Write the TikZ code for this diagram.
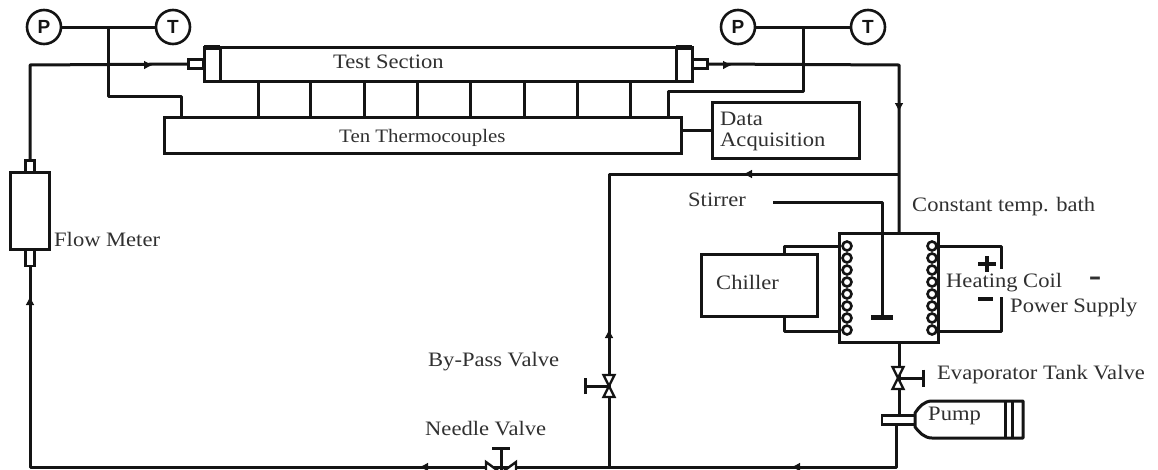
\documentclass[tikz,border=0pt]{standalone}
\usepackage{fontspec}
\setmainfont[FakeStretch=1.1]{Liberation Serif}
\setsansfont{Liberation Sans}
\usetikzlibrary{positioning,arrows.meta,calc}
\definecolor{pipeink}{HTML}{141414}
\definecolor{labelink}{HTML}{303030}
\tikzset{
  every node/.style={font=\fontsize{20.5}{22}\selectfont, text=labelink},
  pipe/.style={line width=3pt, draw=pipeink, line join=round},
  flow/.style={-{Latex[length=9pt,width=9pt]}},
  vessel/.style={
    rectangle, draw=pipeink, line width=3pt, fill=white,
    inner sep=0pt, outer sep=0pt
  },
  stub/.style={
    rectangle, draw=pipeink, line width=2.6pt, fill=white,
    inner sep=0pt, outer sep=0pt
  },
  gauge/.style={
    circle, draw=pipeink, line width=2.6pt, fill=white,
    inner sep=0pt, outer sep=0pt, minimum size=34pt,
    font=\fontsize{19}{20}\sffamily\bfseries, text=pipeink
  },
  caption/.style={anchor=west, inner sep=0pt},
  bowtie/.pic={
    \draw[line width=2.4pt, draw=pipeink, fill=white] (-5.5,-11) -- (5.5,-11) -- (-5.5,11) -- (5.5,11) -- cycle;
  },
  widetie/.pic={
    \draw[line width=2.4pt, draw=pipeink, fill=white] (-15,-11) -- (-15,11) -- (15,-11) -- (15,11) -- cycle;
  },
  turn/.style={line width=2.6pt, draw=pipeink, fill=white},
  heavy/.style={pipe, line width=5pt},
}
\begin{document}
\begin{tikzpicture}[x=1pt,y=-1pt]
  \path[use as bounding box, clip] (0,0) rectangle (1158,469);

  \coordinate (loopSE) at (896,467);
  \coordinate (loopSW) at (30,467);
  \coordinate (loopNW) at (30,65);
  \coordinate (loopNE) at (899,65);
  \coordinate (teeBath) at (899,174);
  \coordinate (teeBypass) at (609,174);
  \coordinate (teeBottom) at (609,467);
  \coordinate (tipA) at (791,467);
  \coordinate (tipB) at (419,467);
  \coordinate (tipC) at (30,296);
  \coordinate (tipD) at (153,65);
  \coordinate (tipE) at (732,65);
  \coordinate (tipF) at (899,112);
  \coordinate (tipG) at (743,174);
  \coordinate (tipH) at (609,329);
  \coordinate (bypassvalve) at (609,386);
  \coordinate (bypasshandle) at (584,386);
  \coordinate (needlevalve) at (501,473);
  \coordinate (needlehandle) at (501,447);
  \coordinate (tankvalve) at (898,378);
  \coordinate (tankhandle) at (925,378);
  \coordinate (stirrerend) at (773,202);
  \coordinate (stirrerknee) at (882,202);
  \coordinate (stirrerfoot) at (882,317);

  \node[vessel, minimum width=488pt, minimum height=34pt] (test) at (448,64) {};
  \node[vessel, minimum width=16pt, minimum height=34pt] (capL) at (212,64) {};
  \node[vessel, minimum width=16pt, minimum height=34pt] (capR) at (684,64) {};
  \node[stub, minimum width=15pt, minimum height=9pt] (inlet) at (196,64) {};
  \node[stub, minimum width=15pt, minimum height=9pt] (outlet) at (700,64) {};
  \draw[heavy] (capL.north west) -- (capL.north east);
  \draw[heavy] (capR.north west) -- (capR.north east);
  \node[caption] (testlabel) at (333,62) {Test Section};
  \node[vessel, minimum width=517pt, minimum height=36pt] (couple) at (422.5,135) {};
  \node[caption, font=\fontsize{19}{22}\selectfont] (couplelabel) at (339,138) {Ten Thermocouples};
  \node[vessel, minimum width=147pt, minimum height=56pt] (daq) at (785.5,130) {};
  \node[caption] (daqlabel1) at (720,119) {Data};
  \node[caption] (daqlabel2) at (720,142) {Acquisition};

  \node[vessel, minimum width=39pt, minimum height=77pt] (meter) at (29.5,211) {};
  \node[stub, minimum width=9pt, minimum height=12pt] (meterin) at (30,166.5) {};
  \node[stub, minimum width=9pt, minimum height=16pt] (meterout) at (30,258) {};
  \node[caption] (meterlabel) at (54,239) {Flow Meter};

  \node[gauge] (p1) at (44,27) {P};
  \node[gauge] (t1) at (173,27) {T};
  \node[gauge] (p2) at (738,27) {P};
  \node[gauge] (t2) at (868,27) {T};

  \node[vessel, minimum width=99pt, minimum height=109pt] (bath) at (888.5,287.5) {};
  \node[vessel, minimum width=116pt, minimum height=62pt] (chiller) at (759,285) {};
  \node[caption] (chillerlabel) at (716,282) {Chiller};
  \node[caption] (stirrerlabel) at (688,200) {Stirrer};
  \node[caption] (bathlabel) at (912,207) {Constant temp. bath};
  \node[caption] (supplylabel) at (1010,308) {Power Supply};
  \node[caption] (bypasslabel) at (428,362) {By-Pass Valve};
  \node[caption] (needlelabel) at (425,429) {Needle Valve};
  \node[caption] (tanklabel) at (937,375) {Evaporator Tank Valve};

  \node[stub, minimum width=33pt, minimum height=9pt] (pumpinlet) at (898.5,420) {};
  \draw[pipe] (pumpinlet.south -| loopSE) -- (loopSE) -- (loopSW) -- (meterout.south);
  \draw[pipe] (meterin.north) -- (loopNW) -- (inlet.west);
  \draw[pipe] (outlet.east) -- (loopNE) -- (loopNE |- bath.north);
  \draw[pipe] (teeBath) -- (teeBypass) -- (teeBottom);
  \draw[pipe] (loopNE |- bath.south) -- (pumpinlet.north -| loopNE);
  \draw[pipe,flow] (tipA)++(5,0) -- (tipA);
  \draw[pipe,flow] (tipB)++(5,0) -- (tipB);
  \draw[pipe,flow] (tipC)++(0,5) -- (tipC);
  \draw[pipe,flow] (tipD)++(-5,0) -- (tipD);
  \draw[pipe,flow] (tipE)++(-5,0) -- (tipE);
  \draw[pipe,flow] (tipF)++(0,-5) -- (tipF);
  \draw[pipe,flow] (tipG)++(5,0) -- (tipG);
  \draw[pipe,flow] (tipH)++(0,5) -- (tipH);

  \draw[pipe] (p1) -- (t1);
  \draw[pipe] (p2) -- (t2);
  \draw[pipe] (108,27) -- (108,96) -- (181,96) -- (181,0 |- couple.north);
  \draw[pipe] (803,27) -- (803,91) -- (668,91) -- (668,0 |- couple.north);
  \foreach \tie in {258,310,364,417,470,524,577,630}
    \draw[pipe] (\tie,0 |- test.south) -- (\tie,0 |- couple.north);
  \draw[pipe] (couple.east |- daq.west) -- (daq.west);

  \draw[pipe, -{Bar[width=16pt,line width=3pt]}] (bypassvalve) -- (bypasshandle);
  \draw[pipe, -{Bar[width=18pt,line width=3pt]}] (needlevalve) -- (needlehandle);
  \draw[pipe, -{Bar[width=17pt,line width=3pt]}] (tankvalve) -- (tankhandle);
  \pic at (bypassvalve) {bowtie};
  \pic at (tankvalve) {bowtie};
  \pic at (needlevalve) {widetie};

  \draw[pipe] (stirrerend) -- (stirrerknee) -- (stirrerfoot);
  \draw[heavy] (871,317) -- (893,317);

  \draw[pipe] (chiller.north -| 784,0) -- (784,246) -- (bath.west |- 0,246);
  \draw[pipe] (chiller.south -| 784,0) -- (784,331) -- (bath.west |- 0,331);
  \draw[pipe] (bath.east |- 0,246) -- (1001,246) -- (1001,269);
  \draw[pipe] (bath.east |- 0,331) -- (1001,331) -- (1001,297);
  \foreach \loop in {0,...,7} {
    \draw[turn] (847,246+12*\loop) circle (4.5);
    \draw[turn] (932,246+12*\loop) circle (4.5);
  }
  \draw[pipe, line width=3.4pt] (978,264) -- (996,264) (987,256) -- (987,272);
  \draw[pipe, line width=3.5pt] (978,299) -- (993,299);
  \node[caption] (coillabel) at (946,283) {Heating Coil};
  \node[font=\fontsize{34}{34}\bfseries] (dashlabel) at (1095,282) {-};

  \draw[pipe, fill=white] (915,413) .. controls (919,407) and (924,401) .. (932,401) -- (1023,401) -- (1023,438) -- (932,438) .. controls (924,438) and (919,432) .. (915,427) -- cycle;
  \draw[pipe] (1005,401) -- (1005,438) (1012,401) -- (1012,438);
  \node[caption] (pumplabel) at (928,416) {Pump};
\end{tikzpicture}
\end{document}
